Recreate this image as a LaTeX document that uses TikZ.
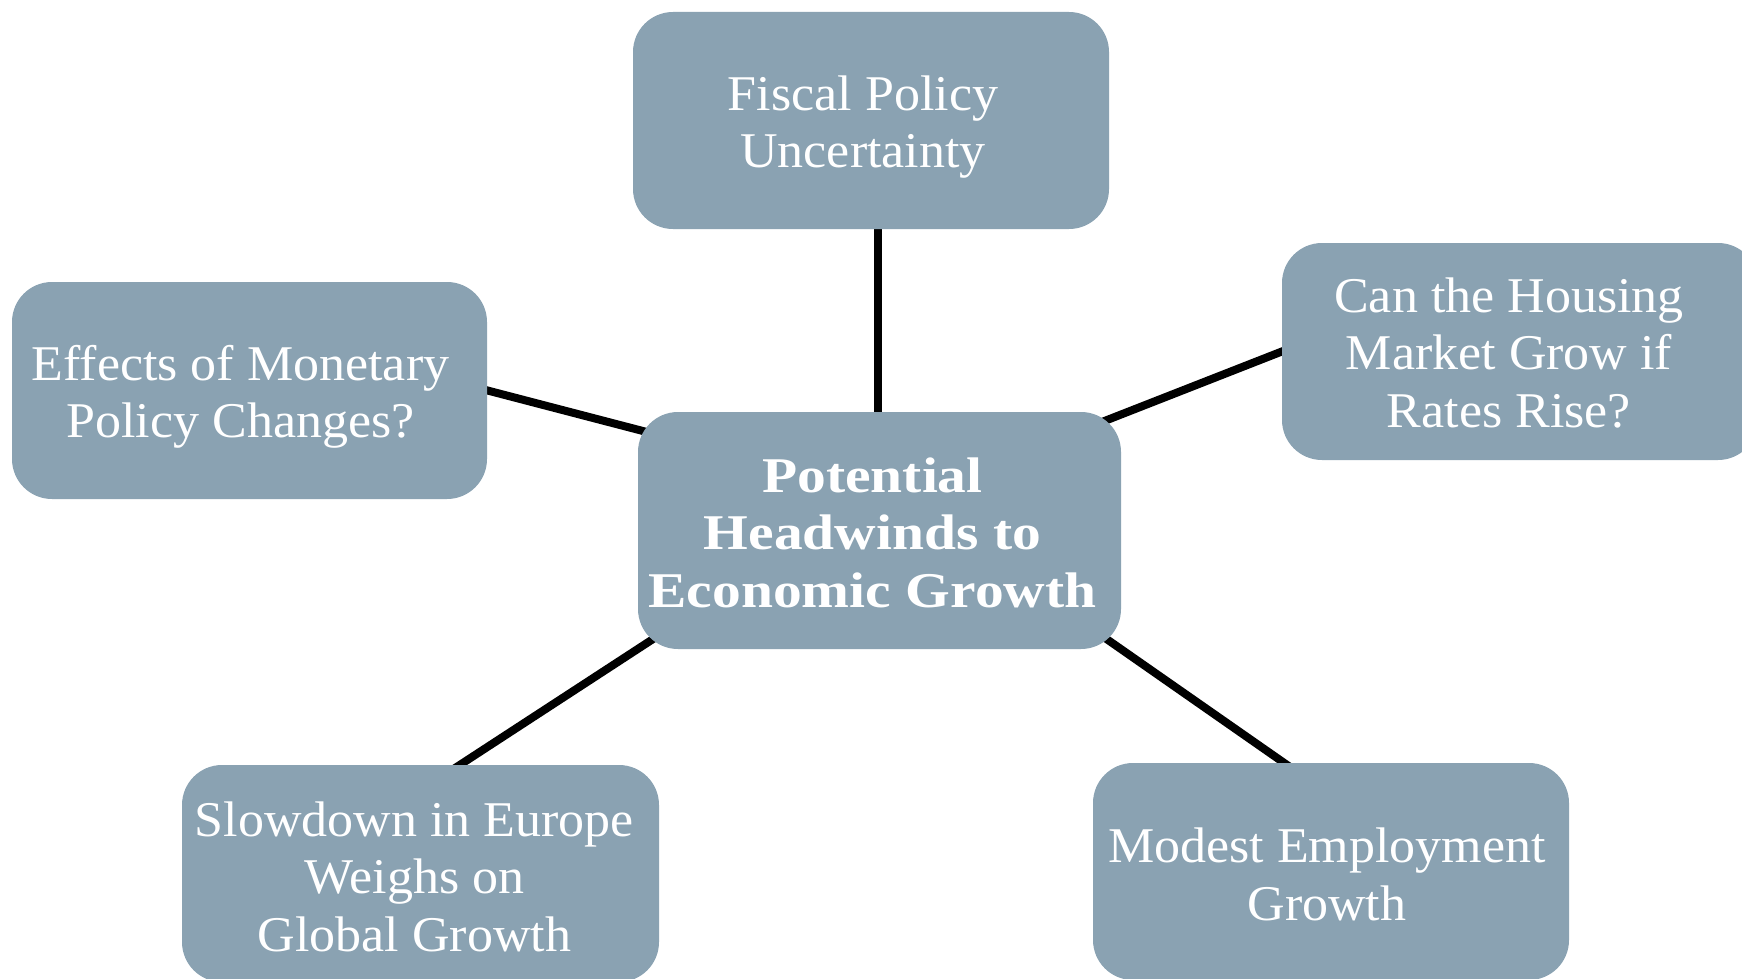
\documentclass[tikz,border=0pt]{standalone}
\usepackage{fontspec}
\setmainfont{Liberation Serif}[FakeStretch=1.04]
\newfontfamily\titlefont{Liberation Serif}[FakeStretch=1.15]
\usetikzlibrary{calc,backgrounds}
\definecolor{boxfill}{HTML}{8AA2B2}
% #1 = horizontal kern (content moves right by half of it), #2 = vertical raise, #3 = lines
\newcommand\boxtext[3]{\kern#1\raisebox{#2}[\height][\depth]{\begin{tabular}{@{}c@{}}#3\end{tabular}}}
\tikzset{
  topic/.style={fill=boxfill, rounded corners=40pt, text=white,
    inner sep=0pt, minimum width=476pt, minimum height=217pt,
    font=\fontsize{50}{57.5}\selectfont},
  hub/.style={topic, minimum width=483pt, minimum height=237pt,
    font=\titlefont\bfseries\fontsize{50}{57.5}\selectfont},
  link/.style={draw=black, line width=8pt}
}
\begin{document}
\begin{tikzpicture}[x=1pt,y=-1pt]
\useasboundingbox (0,0) rectangle (1742,979);
\clip (0,0) rectangle (1742,979);
\node[topic] (t) at (871,120.5) {\boxtext{-16pt}{-7pt}{Fiscal Policy\\Uncertainty}};
\node[topic, minimum width=475pt] (l) at (249.5,390.5) {\boxtext{-18pt}{-7pt}{Effects of Monetary\\Policy Changes?}};
\node[topic] (r) at (1520,351.5) {\boxtext{-22pt}{-6.5pt}{Can the Housing\\Market Grow if\\Rates Rise?}};
\node[hub] (c) at (879.5,530.5) {\boxtext{-14pt}{-7.5pt}{Potential\\Headwinds to\\Economic Growth}};
\node[topic, minimum width=477pt] (bl) at (420.5,873.5) {\boxtext{-12pt}{-8.5pt}{Slowdown in Europe\\Weighs on\\Global Growth}};
\node[topic] (br) at (1331,871.5) {\boxtext{-8pt}{-8.5pt}{Modest Employment\\Growth}};
\begin{scope}[on background layer]
  \draw[link] ($(c.north)+(-1.5,10)$) -- ($(c.north |- t.south)+(-1.5,-10)$);
  \draw[link] ($(l.east)+(-10,-2.7)$) -- ($(c.north west)+(22,23.6)$);
  \draw[link] ($(r.west)+(10,-3.9)$) -- ($(c.north east)+(-31,14.8)$);
  \draw[link] ($(c.south west)+(30,-19.8)$) -- ($(bl.north)+(24.2,10)$);
  \draw[link] ($(c.south east)+(-28,-19.5)$) -- ($(br.north)+(-32.7,10)$);
\end{scope}
\end{tikzpicture}
\end{document}
